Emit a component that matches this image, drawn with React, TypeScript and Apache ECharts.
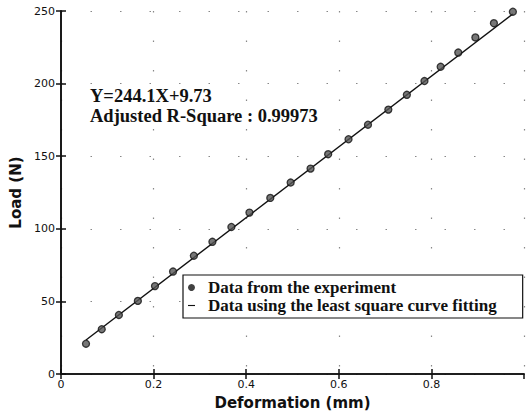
import React, { useEffect, useRef } from "react";
import * as echarts from "echarts";

const deformation = [0.054, 0.088, 0.125, 0.166, 0.203, 0.242, 0.287, 0.327, 0.368, 0.407, 0.452, 0.496, 0.539, 0.577, 0.621, 0.663, 0.707, 0.747, 0.785, 0.82, 0.858, 0.895, 0.935, 0.976];
const load = [20.9, 30.9, 40.7, 50.4, 60.6, 70.6, 81.5, 91.1, 101.3, 111.2, 121.3, 131.9, 141.5, 151.4, 161.7, 171.7, 182.1, 192.3, 201.8, 211.6, 221.4, 231.8, 241.6, 249.5];
const fitX = [0.054, 0.976];
const fitY = [23.5, 248.0];
const annotationLines = ["Y=244.1X+9.73", "Adjusted R-Square : 0.99973"];
const seriesNames = ["Data from the experiment", "Data using the least square curve fitting"];

export default function App() {
  const ref = useRef<HTMLDivElement>(null);
  useEffect(() => {
    if (!ref.current) return;
    const chart = echarts.init(ref.current, undefined, { renderer: "svg" });
    const axisFont = { fontFamily: "DejaVu Sans", fontSize: 11, color: "#111" };
    const nameFont = { fontFamily: "DejaVu Sans", fontSize: 15, fontWeight: "bold" as const, color: "#111" };
    const split = { show: true, lineStyle: { color: "#888", width: 1.2, type: [1.5, 28] as any } };
    const line = { show: true, lineStyle: { color: "#111", width: 1.6 } };
    const tick = { show: true, inside: true, length: 5, lineStyle: { color: "#111", width: 1.5 } };
    chart.setOption({
      animation: false,
      backgroundColor: "#fff",
      grid: { left: 59, right: 2, top: 11, bottom: 37, containLabel: false },
      xAxis: [
        {
          type: "value", min: 0, max: 1, interval: 0.2, position: "bottom",
          name: "Deformation (mm)", nameLocation: "middle", nameGap: 19, nameTextStyle: nameFont,
          axisLine: line, axisTick: tick, splitLine: split,
          axisLabel: { ...axisFont, margin: 5, showMaxLabel: false, formatter: (v: number) => (v === 0 ? "0" : v.toFixed(1)) },
        },
        { type: "value", min: 0, max: 1, interval: 0.2, position: "top", axisLine: line, axisTick: tick, axisLabel: { show: false }, splitLine: { show: false } },
      ],
      yAxis: [
        {
          type: "value", min: 0, max: 250, interval: 50, position: "left",
          name: "Load (N)", nameLocation: "middle", nameGap: 38, nameTextStyle: nameFont,
          axisLine: line, axisTick: tick, splitLine: split,
          axisLabel: { ...axisFont, margin: 6 },
        },
        { type: "value", min: 0, max: 250, interval: 50, position: "right", axisLine: line, axisTick: tick, axisLabel: { show: false }, splitLine: { show: false } },
      ],
      legend: {
        left: 183, top: 275, orient: "vertical", backgroundColor: "#fff",
        borderColor: "#111", borderWidth: 1.2, padding: [4, 26, 4, 5], itemGap: 1,
        itemWidth: 7, itemHeight: 7,
        textStyle: { fontFamily: "Liberation Serif", fontSize: 17, fontWeight: "bold", color: "#111", padding: [0, 0, 0, 8] },
        data: [
          { name: seriesNames[0], icon: "circle", itemStyle: { color: "#111", borderWidth: 0 } },
          { name: seriesNames[1], icon: "path://M0,0H10V1.6H0Z", itemStyle: { color: "#111", borderWidth: 0 } },
        ],
      },
      graphic: annotationLines.map((t, i) => ({
        type: "text", left: 90, top: 86.5 + i * 19.5,
        style: { text: t, fontFamily: "Liberation Serif", fontSize: 18.5, fontWeight: "bold", fill: "#111" },
      })),
      series: [
        {
          name: seriesNames[1], type: "line", data: fitX.map((x, i) => [x, fitY[i]]),
          symbol: "none", lineStyle: { color: "#111", width: 1.4 }, itemStyle: { color: "#111" }, z: 2,
        },
        {
          name: seriesNames[0], type: "scatter", data: deformation.map((x, i) => [x, load[i]]),
          symbol: "circle", symbolSize: 7,
          itemStyle: { color: "#555", borderColor: "#111", borderWidth: 1.3 }, z: 3,
        },
      ],
    });
    return () => chart.dispose();
  }, []);
  return <div ref={ref} style={{ width: 526, height: 415, position: "absolute", left: 0, top: 0 }} />;
}
